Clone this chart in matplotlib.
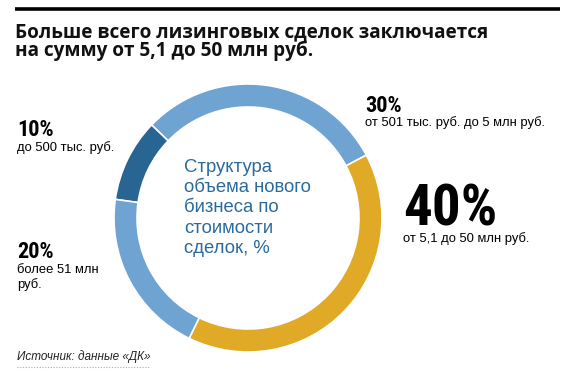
import matplotlib
matplotlib.use("Agg")
import matplotlib.pyplot as plt

# ---------------------------------------------------------------------------
# Data
# ---------------------------------------------------------------------------

TITLE_LINES = ["Больше всего лизинговых сделок заключается",
               "на сумму от 5,1 до 50 млн руб."]
CENTER_LINES = ["Структура", "объема нового", "бизнеса по", "стоимости", "сделок, %"]
SOURCE = "Источник: данные «ДК»"

# order around the ring, counter-clockwise from the upper right
shares = [30, 10, 20, 40]
pct_labels = ["30%", "10%", "20%", "40%"]
descriptions = [
    ["от 501 тыс. руб. до 5 млн руб."],
    ["до 500 тыс. руб."],
    ["более 51 млн", "руб."],
    ["от 5,1 до 50 млн руб."],
]
colors = ["#6fa3d1", "#286593", "#6fa3d1", "#e0aa27"]


def draw_lines(ax, x, y0, step, lines, **kw):
    """Draw each line at its own baseline (pixel coords, y down)."""
    for i, line in enumerate(lines):
        ax.text(x, y0 + i * step, line, va="baseline", **kw)


# ---------------------------------------------------------------------------
# Figure (axes in pixel coords, y down)
# ---------------------------------------------------------------------------

W, H = 575, 375
fig = plt.figure(figsize=(W / 100, H / 100), dpi=100, facecolor="white")
ax = fig.add_axes([0, 0, 1, 1])

ax.pie(shares, colors=colors, startangle=-28, counterclock=False,
       center=(248, 218), radius=134,
       wedgeprops=dict(width=23, edgecolor="white", linewidth=1.2))
ax.set_xlim(0, W)
ax.set_ylim(H, 0)
ax.set_aspect("equal")
ax.axis("off")

# top rule + title
ax.plot([15, 560], [9, 9], color="black", lw=2.6, solid_capstyle="butt")
draw_lines(ax, 15, 37, 19, TITLE_LINES, fontsize=13.7, fontweight="bold",
           family="Open Sans", color="#111111")

# ring centre caption
draw_lines(ax, 184, 172, 20.25, CENTER_LINES, fontsize=13.3, color="#2a699c",
           family="Liberation Sans")

big = dict(family="Roboto Condensed", fontweight="bold", color="black", va="baseline")
small = dict(family="Liberation Sans", fontsize=9.4, color="black")

# label anchors: (x, pct baseline, desc baseline, pct font size)
anchors = [
    (365, 112, 126, 16),
    (17, 136, 151, 16),
    (17, 258, 273, 16),
    (403, 225, 242, 41),
]
for (x, yb, yd, fs), pct, desc in zip(anchors, pct_labels, descriptions):
    ax.text(x, yb, pct, fontsize=fs, **big)
    draw_lines(ax, x, yd, 15, desc, **small)

# source
ax.text(17, 360, SOURCE, fontsize=8.5, style="italic", family="Liberation Sans",
        color="#222222", va="baseline")
ax.plot([17, 150], [367, 367], color="#aaaaaa", lw=0.8, ls=(0, (1, 1.5)))

fig.savefig("out.png", dpi=100, facecolor="white")
